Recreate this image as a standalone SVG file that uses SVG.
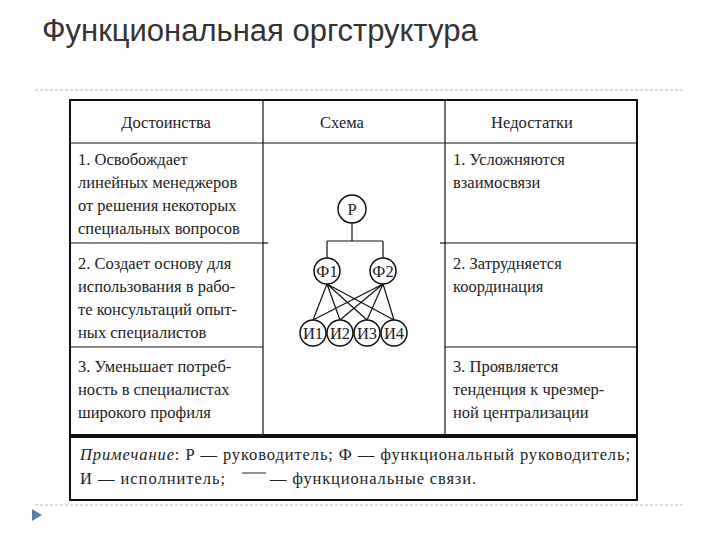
<svg xmlns="http://www.w3.org/2000/svg" width="720" height="540" viewBox="0 0 720 540">
<style>
.t{font-family:'Liberation Serif','Times New Roman',serif;font-size:16.5px;fill:#222}
.c{text-anchor:middle}
.n circle{fill:#fff;stroke:#111;stroke-width:1.5}
.g{stroke:#111;stroke-width:1.2;fill:none}
.b{stroke:#111;stroke-width:2;fill:none}
</style>
<rect width="720" height="540" fill="#fff"/>
<text x="42" y="41" font-family="Liberation Sans,sans-serif" font-size="31" fill="#333">Функциональная оргструктура</text>
<line x1="35" y1="90" x2="685" y2="90" stroke="#bbb" stroke-dasharray="3,2"/>
<line x1="35" y1="505" x2="685" y2="505" stroke="#bbb" stroke-dasharray="3,2"/>
<polygon points="32,509 32,521 42,515" fill="#5b7fa8"/>
<g id="table">
<rect x="70" y="100" width="567" height="335" class="b"/>
<rect x="70" y="437" width="567" height="63" class="b"/>
<line x1="70" y1="143" x2="637" y2="143" class="g"/>
<line x1="70" y1="243" x2="263" y2="243" class="g"/>
<line x1="445" y1="243" x2="637" y2="243" class="g"/>
<line x1="70" y1="347" x2="263" y2="347" class="g"/>
<line x1="445" y1="347" x2="637" y2="347" class="g"/>
<line x1="263" y1="243" x2="268" y2="243" class="g"/>
<line x1="440" y1="243" x2="445" y2="243" class="g"/>
<line x1="263" y1="100" x2="263" y2="435" class="g"/>
<line x1="445" y1="100" x2="445" y2="435" class="g"/>
<text class="t c" x="166" y="128">Достоинства</text>
<text class="t c" x="342" y="128">Схема</text>
<text class="t c" x="532" y="128">Недостатки</text>
<text class="t" x="78" y="165">1. Освобождает</text>
<text class="t" x="78" y="188">линейных менеджеров</text>
<text class="t" x="78" y="211">от решения некоторых</text>
<text class="t" x="78" y="234">специальных вопросов</text>
<text class="t" x="78" y="269">2. Создает основу для</text>
<text class="t" x="78" y="292">использования в рабо-</text>
<text class="t" x="78" y="315">те консультаций опыт-</text>
<text class="t" x="78" y="338">ных специалистов</text>
<text class="t" x="78" y="372">3. Уменьшает потреб-</text>
<text class="t" x="78" y="395">ность в специалистах</text>
<text class="t" x="78" y="418">широкого профиля</text>
<text class="t" x="453" y="165">1. Усложняются</text>
<text class="t" x="453" y="188">взаимосвязи</text>
<text class="t" x="453" y="269">2. Затрудняется</text>
<text class="t" x="453" y="292">координация</text>
<text class="t" x="453" y="372">3. Проявляется</text>
<text class="t" x="453" y="395">тенденция к чрезмер-</text>
<text class="t" x="453" y="418">ной централизации</text>
<text class="t" x="80" y="460" textLength="550" lengthAdjust="spacing"><tspan font-style="italic">Примечание</tspan>: Р — руководитель; Ф — функциональный руководитель;</text>
<text class="t" x="80" y="484" textLength="145" lengthAdjust="spacing">И — исполнитель;</text>
<line x1="242" y1="473" x2="266" y2="473" stroke="#222" stroke-width="1"/>
<text class="t" x="270" y="484" textLength="206" lengthAdjust="spacing">— функциональные связи.</text>
</g>
<g id="connectors" class="g">
<path d="M352,223 V241 M327,241 H383 M327,241 V258 M383,241 V258"/>
<path d="M327,284 L313,320 M327,284 L340,320 M327,284 L367,320 M327,284 L394,320 M383,284 L313,320 M383,284 L340,320 M383,284 L367,320 M383,284 L394,320"/>
</g>
<g id="P" class="n"><circle cx="352" cy="209" r="14"/><text class="t c" x="352" y="215">Р</text></g>
<g id="F1" class="n"><circle cx="327" cy="271" r="13"/><text class="t c" x="327" y="277">Ф1</text></g>
<g id="F2" class="n"><circle cx="383" cy="271" r="13"/><text class="t c" x="383" y="277">Ф2</text></g>
<g id="I1" class="n"><circle cx="313" cy="333" r="13"/><text class="t c" x="313" y="339">И1</text></g>
<g id="I2" class="n"><circle cx="340" cy="333" r="13"/><text class="t c" x="340" y="339">И2</text></g>
<g id="I3" class="n"><circle cx="367" cy="333" r="13"/><text class="t c" x="367" y="339">И3</text></g>
<g id="I4" class="n"><circle cx="394" cy="333" r="13"/><text class="t c" x="394" y="339">И4</text></g>
</svg>
